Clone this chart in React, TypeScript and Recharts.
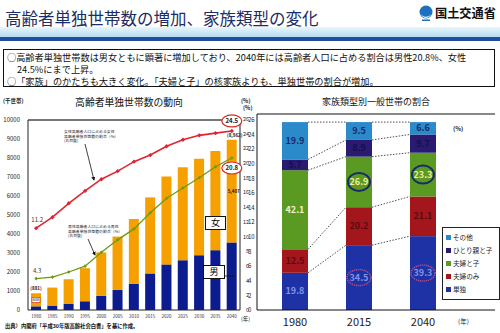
import {
  Bar,
  BarChart,
  ComposedChart,
  LabelList,
  Legend,
  Line,
  ReferenceLine,
  XAxis,
  YAxis,
} from "recharts";

// 高齢者単独世帯数の動向 (千世帯, %)
const years = ["1980", "1985", "1990", "1995", "2000", "2005", "2010", "2015", "2020", "2025", "2030", "2035", "2040"];
const maleHouseholds = [193, 233, 310, 460, 742, 1051, 1386, 1924, 2399, 2619, 2883, 3149, 3555];
const femaleHouseholds = [688, 948, 1313, 1742, 2290, 2814, 3405, 4003, 4628, 4892, 5080, 5218, 5407];
const femaleRatio = [11.2, 12.7, 14.6, 16.3, 17.9, 19.0, 20.3, 21.2, 22.4, 23.3, 23.9, 24.2, 24.5];
const maleRatio = [4.3, 4.5, 5.2, 6.0, 7.9, 9.6, 11.1, 13.3, 15.3, 16.7, 18.1, 19.6, 20.8];
const householdTicks = [0, 1000, 2000, 3000, 4000, 5000, 6000, 7000, 8000, 9000, 10000];
const ratioTicks = [0, 2, 4, 6, 8, 10, 12, 14, 16, 18, 20, 22, 24, 26];

// 家族類型別一般世帯の割合 (%)
const familyYears = ["1980", "2015", "2040"];
const single = [19.8, 34.5, 39.3];
const coupleOnly = [12.5, 20.2, 21.1];
const coupleChildren = [42.1, 26.9, 23.3];
const singleParent = [5.7, 8.9, 9.7];
const others = [19.9, 9.5, 6.6];

const FONT = '"Noto Sans CJK JP", "Noto Sans", sans-serif';

const householdData = years.map((year, i) => ({
  year,
  male: maleHouseholds[i],
  female: femaleHouseholds[i],
  maleRatio: maleRatio[i],
  femaleRatio: femaleRatio[i],
}));

const segments = [
  { key: "single", name: "単独", color: "#1E32A6", text: "#7f95e6" },
  { key: "coupleOnly", name: "夫婦のみ", color: "#A3161C", text: "#5c0a10" },
  { key: "coupleChildren", name: "夫婦と子", color: "#5A9A22", text: "#f2f2c8" },
  { key: "singleParent", name: "ひとり親と子", color: "#2A1B72", text: "#14104a" },
  { key: "others", name: "その他", color: "#2B8ACA", text: "#162a6a" },
];

const familyData = familyYears.map((year, i) => ({
  year,
  single: single[i],
  coupleOnly: coupleOnly[i],
  coupleChildren: coupleChildren[i],
  singleParent: singleParent[i],
  others: others[i],
}));

// right chart geometry (plot 238px wide, padded so bars sit left of the legend)
const R_PAD_L = 6;
const R_PAD_R = 40;
const R_PLOT_W = 238;
const STEP = (R_PLOT_W - R_PAD_L - R_PAD_R) / familyYears.length;

const cumTop = (i: number, k: number) => {
  let s = 0;
  for (let j = 0; j <= k; j++) s += (familyData[i] as any)[segments[j].key];
  return s;
};

// stacked segment + dotted connector to the same boundary of the next bar
const makeSegShape = (k: number) => (props: any) => {
  const { x, y, width, height, index, fill } = props;
  const v = (familyData[index] as any)[segments[k].key];
  const ppu = height / v;
  const cur = cumTop(index, k);
  let connector = null;
  if (index < familyYears.length - 1) {
    const ny = y + (cur - cumTop(index + 1, k)) * ppu;
    connector = (
      <line
        x1={x + width}
        y1={y}
        x2={x + STEP}
        y2={ny}
        stroke="#222"
        strokeWidth={0.8}
        strokeDasharray="1.5 1.5"
      />
    );
  }
  return (
    <g>
      <rect x={x} y={y} width={width} height={height} fill={fill} />
      {connector}
    </g>
  );
};

const makeSegLabel = (k: number) => (props: any) => {
  const { x, y, width, height, value, index } = props;
  const cx = x + width / 2;
  const cy = y + height / 2;
  const seg = segments[k];
  const circled = seg.key === "coupleChildren" && index > 0;
  const glow = seg.key === "single" && index > 0;
  return (
    <g>
      {circled && (
        <ellipse cx={cx} cy={cy} rx={11} ry={9} fill="none" stroke="#1b2a6e" strokeWidth={2} />
      )}
      {glow && (
        <ellipse cx={cx} cy={cy} rx={12} ry={8} fill="none" stroke="#d9577f" strokeWidth={1.4} strokeDasharray="1 1" />
      )}
      <text
        x={cx}
        y={cy + 3}
        textAnchor="middle"
        fontSize={9}
        fontWeight="bold"
        fill={circled ? "#f0ee9a" : seg.text}
        fontFamily={FONT}
      >
        {value}
      </text>
    </g>
  );
};

const diamondDot = (color: string, r: number) => (props: any) => {
  const { cx, cy, index } = props;
  if (cx == null || cy == null) return <g key={`n${index}`} />;
  return (
    <path
      key={`d${index}`}
      d={`M${cx},${cy - r}L${cx + r},${cy}L${cx},${cy + r}L${cx - r},${cy}Z`}
      fill={color}
    />
  );
};

const femaleLineLabel = (props: any) => {
  const { x, y, index, value } = props;
  if (index === 0)
    return (
      <text x={x + 1} y={y - 6} textAnchor="middle" fontSize={6} fill="#333" fontFamily={FONT}>
        {value}
      </text>
    );
  if (index === years.length - 1)
    return (
      <g>
        <ellipse cx={x} cy={y - 10} rx={10} ry={6} fill="#fff" stroke="#d42a2a" strokeWidth={1.2} />
        <text x={x} y={y - 8} textAnchor="middle" fontSize={6} fontWeight="bold" fill="#222" fontFamily={FONT}>
          {value}
        </text>
      </g>
    );
  return null;
};

const maleLineLabel = (props: any) => {
  const { x, y, index, value } = props;
  if (index === 0)
    return (
      <text x={x + 1} y={y - 6} textAnchor="middle" fontSize={6} fill="#333" fontFamily={FONT}>
        {value}
      </text>
    );
  if (index === years.length - 1)
    return (
      <g>
        <ellipse cx={x} cy={y + 10} rx={10} ry={6} fill="#fff" stroke="#d42a2a" strokeWidth={1.2} />
        <text x={x} y={y + 12} textAnchor="middle" fontSize={6} fontWeight="bold" fill="#222" fontFamily={FONT}>
          {value}
        </text>
      </g>
    );
  return null;
};

const femaleBarLabel = (props: any) => {
  const { x, y, width, height, value, index } = props;
  const cx = x + width / 2;
  const total = maleHouseholds[index] + value;
  if (index === 0)
    return (
      <g>
        <text x={cx} y={y - 3} textAnchor="middle" fontSize={4.5} fontWeight="bold" fill="#222" fontFamily={FONT}>
          ({total.toLocaleString("en-US")})
        </text>
        <rect x={cx - 4} y={y + height / 2 - 2.5} width={8} height={5} fill="#fff" stroke="#c22" strokeWidth={0.6} />
        <text x={cx} y={y + height / 2 + 1.6} textAnchor="middle" fontSize={4} fill="#222" fontFamily={FONT}>
          {value}
        </text>
      </g>
    );
  if (index === years.length - 1)
    return (
      <g>
        <text x={cx + 3} y={y - 3} textAnchor="middle" fontSize={4.5} fontWeight="bold" fill="#222" fontFamily={FONT}>
          ({total.toLocaleString("en-US")})
        </text>
        <text x={cx + 2} y={y + height / 2 + 1.5} textAnchor="middle" fontSize={4.5} fontWeight="bold" fill="#222" fontFamily={FONT}>
          {value.toLocaleString("en-US")}
        </text>
      </g>
    );
  return null;
};

const FamilyLegend = () => (
  <div
    style={{
      border: "1px solid #222",
      background: "#fff",
      width: 53,
      padding: "3px 0 3px 3px",
      fontFamily: FONT,
      fontSize: 6.6,
      lineHeight: "13px",
      color: "#222",
    }}
  >
    {[...segments].reverse().map((s) => (
      <div key={s.key} style={{ display: "flex", alignItems: "center", whiteSpace: "nowrap" }}>
        <span style={{ width: 5, height: 5, background: s.color, marginRight: 2, display: "inline-block" }} />
        {s.name}
      </div>
    ))}
  </div>
);

const smallTick = { fontSize: 6, fill: "#222", fontFamily: FONT };

export default function App() {
  return (
    <div
      style={{
        position: "fixed",
        left: 0,
        top: 0,
        width: 500,
        height: 333,
        overflow: "hidden",
        background: "#fff",
        fontFamily: FONT,
      }}
    >
      {/* header */}
      <div style={{ position: "absolute", left: 5, top: 6, fontSize: 16.5, color: "#1b2c66", whiteSpace: "nowrap" }}>
        高齢者単独世帯数の増加、家族類型の変化
      </div>
      <svg style={{ position: "absolute", left: 418, top: 4 }} width={16} height={18}>
        <circle cx={8} cy={8} r={6.5} fill="#1d6fc0" />
        <path d="M3,9 A5,5 0 0 0 13,9 A4,3 0 0 1 3,9Z" fill="#fff" />
        <rect x={4} y={15.5} width={8} height={1.5} fill="#1d6fc0" />
      </svg>
      <div style={{ position: "absolute", left: 435, top: 4, fontSize: 12.2, fontWeight: "bold", color: "#111", whiteSpace: "nowrap" }}>
        国土交通省
      </div>
      <div
        style={{
          position: "absolute",
          left: 0,
          top: 27,
          width: 500,
          height: 10,
          background: "linear-gradient(#eaf6fc, #b3dbf0)",
        }}
      />
      <div style={{ position: "absolute", left: 0, top: 37, width: 500, height: 4, background: "#1f4f9c" }} />

      {/* summary box */}
      <div
        style={{
          position: "absolute",
          left: 3,
          top: 49,
          width: 492,
          height: 38,
          border: "1px solid #111",
          fontSize: 9.2,
          lineHeight: "12px",
          color: "#111",
          padding: "1px 0 0 3px",
          boxSizing: "border-box",
          whiteSpace: "nowrap",
        }}
      >
        <div style={{ height: 12 }}>○高齢者単独世帯数は男女ともに顕著に増加しており、2040年には高齢者人口に占める割合は男性20.8%、女性</div>
        <div style={{ height: 12, paddingLeft: 10 }}>24.5%にまで上昇。</div>
        <div style={{ height: 12 }}>○「家族」のかたちも大きく変化。「夫婦と子」の核家族よりも、単独世帯の割合が増加。</div>
      </div>

      {/* left chart */}
      <div style={{ position: "absolute", left: 54, top: 95, width: 150, textAlign: "center", fontSize: 9.8, color: "#111" }}>
        高齢者単独世帯数の動向
      </div>
      <div style={{ position: "absolute", left: 3, top: 97, fontSize: 5.5, fontWeight: "bold", color: "#222" }}>(千世帯)</div>
      <div style={{ position: "absolute", left: 241, top: 97, fontSize: 5.5, fontWeight: "bold", color: "#222" }}>(%)</div>
      <div style={{ position: "absolute", left: 0, top: 95 }}>
        <ComposedChart width={258} height={235} data={householdData} margin={{ top: 25, right: 4, left: 2, bottom: 8 }}>
          <XAxis
            dataKey="year"
            height={12}
            tick={{ fontSize: 4.5, fill: "#333", fontFamily: FONT, dy: -3 }}
            tickLine={false}
            axisLine={{ stroke: "#222" }}
            interval={0}
          />
          <YAxis
            yAxisId="hh"
            domain={[0, 10000]}
            ticks={householdTicks}
            width={26}
            tick={smallTick}
            tickLine={false}
            axisLine={{ stroke: "#222" }}
          />
          <YAxis
            yAxisId="pct"
            orientation="right"
            domain={[0, 26]}
            ticks={ratioTicks}
            width={14}
            tick={smallTick}
            tickLine={false}
            axisLine={{ stroke: "#222" }}
          />
          <ReferenceLine yAxisId="hh" y={10000} stroke="#777" strokeWidth={2} />
          <Bar yAxisId="hh" dataKey="male" stackId="a" fill="#0C1C8E" barSize={10} isAnimationActive={false} />
          <Bar yAxisId="hh" dataKey="female" stackId="a" fill="#F6A000" barSize={10} isAnimationActive={false}>
            <LabelList dataKey="female" content={femaleBarLabel} />
          </Bar>
          <Line
            yAxisId="pct"
            dataKey="maleRatio"
            stroke="#6C9A10"
            strokeWidth={1.3}
            dot={diamondDot("#6C9A10", 1.8)}
            isAnimationActive={false}
          >
            <LabelList dataKey="maleRatio" content={maleLineLabel} />
          </Line>
          <Line
            yAxisId="pct"
            dataKey="femaleRatio"
            stroke="#DF2630"
            strokeWidth={1.6}
            dot={diamondDot("#DF2630", 2.2)}
            isAnimationActive={false}
          >
            <LabelList dataKey="femaleRatio" content={femaleLineLabel} />
          </Line>
        </ComposedChart>
      </div>
      <div style={{ position: "absolute", left: 241, top: 315, fontSize: 5.5, color: "#222" }}>(年)</div>

      {/* left chart annotations */}
      <div style={{ position: "absolute", left: 64, top: 129, fontSize: 3.9, lineHeight: "4.6px", color: "#222", whiteSpace: "nowrap" }}>
        女性高齢者人口に占める女性
        <br />
        高齢者単独世帯数の割合（%）
        <br />
        (右目盛)
      </div>
      <div style={{ position: "absolute", left: 68, top: 224, fontSize: 3.9, lineHeight: "4.6px", color: "#222", whiteSpace: "nowrap" }}>
        男性高齢者人口に占める男性
        <br />
        高齢者単独世帯数の割合（%）
        <br />
        (右目盛)
      </div>
      <svg style={{ position: "absolute", left: 0, top: 0, pointerEvents: "none" }} width={250} height={333}>
        <defs>
          <marker id="ah" markerWidth="5" markerHeight="5" refX="4" refY="2.5" orient="auto">
            <path d="M0,0L5,2.5L0,5Z" fill="#111" />
          </marker>
        </defs>
        <line x1={85} y1={144} x2={94} y2={180} stroke="#111" strokeWidth={0.8} markerEnd="url(#ah)" />
        <line x1={88} y1={239} x2={95} y2={255} stroke="#111" strokeWidth={0.8} markerEnd="url(#ah)" />
        <line x1={225} y1={276} x2={234} y2={276} stroke="#111" strokeWidth={0.8} />
      </svg>
      <div
        style={{
          position: "absolute",
          left: 205,
          top: 216,
          width: 19,
          height: 12,
          border: "1px solid #111",
          background: "#fff",
          fontSize: 9,
          lineHeight: "12px",
          textAlign: "center",
        }}
      >
        女
      </div>
      <div
        style={{
          position: "absolute",
          left: 203,
          top: 265,
          width: 20,
          height: 12,
          border: "1px solid #111",
          background: "#fff",
          fontSize: 9,
          lineHeight: "12px",
          textAlign: "center",
        }}
      >
        男
      </div>
      <div style={{ position: "absolute", left: 5, top: 322, fontSize: 5.3, fontWeight: "bold", color: "#111", whiteSpace: "nowrap" }}>
        出典）内閣府「平成30年版高齢社会白書」を基に作成。
      </div>

      {/* right chart */}
      <div style={{ position: "absolute", left: 291, top: 95, width: 170, textAlign: "center", fontSize: 9, color: "#111" }}>
        家族類型別一般世帯の割合
      </div>
      <div style={{ position: "absolute", left: 243, top: 104, fontSize: 5.5, fontWeight: "bold", color: "#222" }}>(%)</div>
      <div style={{ position: "absolute", left: 453, top: 124, fontSize: 6, fontWeight: "bold", color: "#222" }}>(%)</div>
      <div style={{ position: "absolute", left: 240, top: 92 }}>
        <BarChart width={258} height={240} data={familyData} margin={{ top: 22, right: 3, left: 2, bottom: 4 }} barSize={26}>
          <XAxis
            dataKey="year"
            height={18}
            padding={{ left: R_PAD_L, right: R_PAD_R }}
            tick={{ fontSize: 11, fill: "#222", fontFamily: FONT }}
            tickLine={false}
            axisLine={{ stroke: "#111" }}
          />
          <YAxis
            yAxisId="pct"
            domain={[0, 26.7]}
            ticks={ratioTicks}
            width={15}
            tick={{ fontSize: 5.5, fill: "#222", fontFamily: FONT }}
            tickLine={false}
            axisLine={{ stroke: "#111" }}
            allowDataOverflow
          />
          <YAxis yAxisId="share" orientation="right" domain={[0, 104.3]} width={0} tick={false} tickLine={false} axisLine={{ stroke: "#111" }} />
          <ReferenceLine yAxisId="share" y={104.3} stroke="#111" strokeWidth={1} />
          {segments.map((s, k) => (
            <Bar
              key={s.key}
              yAxisId="share"
              dataKey={s.key}
              name={s.name}
              stackId="f"
              fill={s.color}
              shape={makeSegShape(k)}
              isAnimationActive={false}
            >
              <LabelList dataKey={s.key} content={makeSegLabel(k)} />
            </Bar>
          ))}
          <Legend
            layout="vertical"
            align="center"
            verticalAlign="middle"
            wrapperStyle={{ left: 202, top: 135, width: 57 }}
            content={() => <FamilyLegend />}
          />
        </BarChart>
      </div>
      <div style={{ position: "absolute", left: 458, top: 316, fontSize: 6.5, color: "#222" }}>(年)</div>
    </div>
  );
}
